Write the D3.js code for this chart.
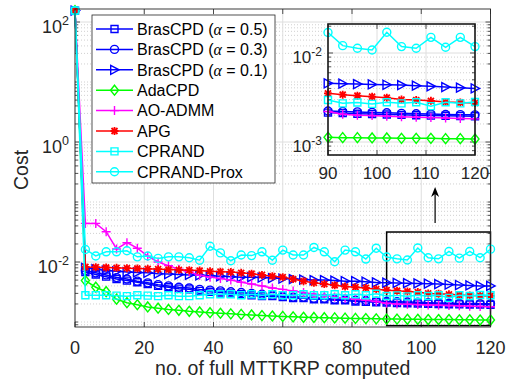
<!DOCTYPE html>
<html>
<head>
<meta charset="utf-8">
<script src="https://cdn.jsdelivr.net/npm/d3@7"></script>
<style>
  body { margin: 0; background: #fff; }
  text { font-family: "Liberation Sans", Arial, sans-serif; fill: #262626; }
</style>
</head>
<body>
<svg width="507" height="382"></svg>
<script>
// iterations (no. of full MTTKRP computed)
const iters = [0, 3, 6, 9, 12, 15, 18, 21, 24, 27, 30, 33, 36, 39, 42, 45, 48, 51, 54, 57, 60,
  63, 66, 69, 72, 75, 78, 81, 84, 87, 90, 93, 96, 99, 102, 105, 108, 111, 114, 117, 120];

const costBras05 = [155, 0.0068, 0.0062, 0.0057, 0.0052, 0.0049, 0.0046, 0.0043, 0.0040, 0.0038, 0.0036,
  0.0035, 0.0033, 0.0032, 0.0031, 0.0030, 0.0029, 0.0028, 0.0027, 0.0027, 0.0026,
  0.0025, 0.0025, 0.0024, 0.0024, 0.0023, 0.0023, 0.0022, 0.00218, 0.00214, 0.00211,
  0.00208, 0.00206, 0.00204, 0.00202, 0.0020, 0.00198, 0.00197, 0.00196, 0.00195, 0.00194];
const costBras03 = [155, 0.0072, 0.0066, 0.0061, 0.0055, 0.0052, 0.0048, 0.0045, 0.0042, 0.0040, 0.0038,
  0.0037, 0.0035, 0.0034, 0.0033, 0.0032, 0.0031, 0.0030, 0.0029, 0.0028, 0.0027,
  0.0026, 0.0026, 0.0025, 0.0025, 0.0024, 0.0024, 0.0023, 0.00228, 0.00223, 0.0022,
  0.00218, 0.00215, 0.00213, 0.0021, 0.00208, 0.00206, 0.00204, 0.00203, 0.00202, 0.00201];
const costBras01 = [155, 0.0080, 0.0076, 0.0072, 0.0070, 0.0068, 0.0067, 0.0066, 0.0064, 0.0063, 0.0062,
  0.0061, 0.0060, 0.0059, 0.0058, 0.0057, 0.0056, 0.0056, 0.0055, 0.0054, 0.0053,
  0.0052, 0.0051, 0.0050, 0.0050, 0.0049, 0.0048, 0.0048, 0.0047, 0.00456, 0.00452,
  0.00448, 0.00444, 0.0044, 0.00436, 0.0043, 0.00422, 0.00414, 0.00408, 0.0040, 0.0040];
const costAdaCPD = [155, 0.0049, 0.0038, 0.0032, 0.0024, 0.0021, 0.00194, 0.00178, 0.0017, 0.00162, 0.00157,
  0.00151, 0.00147, 0.00143, 0.0014, 0.00137, 0.00134, 0.00131, 0.00128, 0.00126, 0.00124,
  0.00122, 0.0012, 0.00119, 0.00118, 0.00117, 0.00116, 0.00115, 0.00114, 0.00113, 0.00112,
  0.00112, 0.00111, 0.00111, 0.0011, 0.0011, 0.0011, 0.00109, 0.00109, 0.00108, 0.00108];
const costAOADMM = [155, 0.044, 0.044, 0.032, 0.0165, 0.021, 0.017, 0.0125, 0.0100, 0.0087, 0.0076,
  0.0068, 0.0060, 0.0056, 0.0053, 0.0050, 0.0046, 0.0043, 0.0040, 0.0037, 0.0035,
  0.0033, 0.0031, 0.0029, 0.0028, 0.0026, 0.0025, 0.0024, 0.0023, 0.0022, 0.00205,
  0.0020, 0.00198, 0.00195, 0.00192, 0.0019, 0.00188, 0.00186, 0.00184, 0.00182, 0.0018];
const costAPG = [155, 0.0083, 0.0082, 0.0081, 0.0080, 0.0079, 0.0078, 0.0077, 0.0076, 0.0075, 0.0074,
  0.0073, 0.0072, 0.0070, 0.0069, 0.0068, 0.0066, 0.0064, 0.0061, 0.0058, 0.0056,
  0.0052, 0.0048, 0.0045, 0.0043, 0.0041, 0.0039, 0.0038, 0.0037, 0.00352, 0.0034,
  0.00332, 0.00323, 0.00315, 0.0030, 0.00296, 0.0029, 0.00282, 0.00278, 0.00275, 0.00272];
const costCPRAND = [155, 0.0028, 0.0028, 0.0028, 0.00275, 0.0027, 0.0028, 0.00275, 0.0027, 0.0028, 0.0027,
  0.0027, 0.0028, 0.0029, 0.0029, 0.0029, 0.0028, 0.0029, 0.0028, 0.0029, 0.0028,
  0.0028, 0.0029, 0.0028, 0.0028, 0.0029, 0.0028, 0.0029, 0.0028, 0.00296, 0.00272,
  0.00278, 0.00268, 0.0028, 0.00272, 0.0028, 0.00253, 0.0028, 0.00272, 0.00282, 0.0028];
const costCPRANDProx = [155, 0.0162, 0.0126, 0.0148, 0.0148, 0.0154, 0.0122, 0.0126, 0.0115, 0.0122, 0.0122,
  0.0118, 0.0107, 0.0183, 0.0142, 0.0105, 0.0131, 0.0128, 0.0148, 0.0107, 0.0158,
  0.0131, 0.0131, 0.0175, 0.0148, 0.0101, 0.0158, 0.0148, 0.0112, 0.0170, 0.0121,
  0.0113, 0.0108, 0.0171, 0.0118, 0.0113, 0.0150, 0.0116, 0.0150, 0.0118, 0.0164];

const seriesNames = ["BrasCPD (α = 0.5)", "BrasCPD (α = 0.3)", "BrasCPD (α = 0.1)", "AdaCPD",
  "AO-ADMM", "APG", "CPRAND", "CPRAND-Prox"];
const seriesValues = [costBras05, costBras03, costBras01, costAdaCPD, costAOADMM, costAPG, costCPRAND, costCPRANDProx];
const seriesColors = ["#0000ff", "#0000ff", "#0000ff", "#00ff00", "#ff00ff", "#ff0000", "#00ffff", "#00ffff"];
const seriesMarkers = ["square", "circle", "triangle", "diamond", "plus", "asterisk", "square", "circle"];

const xTicks = [0, 20, 40, 60, 80, 100, 120];
const yTickExps = [2, 0, -2];
const insetXTicks = [90, 100, 110, 120];
const insetYTickExps = [-2, -3];
// zoomed window shown in the inset (drawn as a box in the main axes)
const zoomX = [90, 120];
const zoomY = [10 ** -3.06, 10 ** -1.5];
const insetShift = 3;          // inset curve is offset by one sample
const arrowX = 104;
const arrowY = [10 ** -1.35, 10 ** -0.75];

const svg = d3.select("svg");
const ink = "#262626";

const x = d3.scaleLinear().domain([0, 120]).range([75, 490.5]);
const y = d3.scaleLog().domain([10 ** -3.083, 10 ** 2.217]).range([327, 9]);

const ix = d3.scaleLinear().domain([90, 120]).range([328, 475]);
const iy = d3.scaleLog().domain([10 ** -3.146, 10 ** -1.674]).range([155, 24]);

function minorVals(scale, majors) {
  const [lo, hi] = scale.domain();
  const out = [];
  for (let e = Math.floor(Math.log10(lo)); e <= Math.ceil(Math.log10(hi)); e++) {
    for (let k = 1; k < 10; k++) {
      const v = k * 10 ** e;
      if (v >= lo && v <= hi && !majors.some(m => Math.abs(Math.log10(m) - Math.log10(v)) < 1e-9)) out.push(v);
    }
  }
  return out;
}

function drawGrid(g, xs, ys, xTickVals, yMajor) {
  const [x0, x1] = xs.range();
  const [y0, y1] = ys.range();
  const yMinor = minorVals(ys, yMajor);
  g.selectAll("line.minor").data(yMinor).enter().append("line")
    .attr("x1", x0).attr("x2", x1)
    .attr("y1", d => ys(d)).attr("y2", d => ys(d))
    .style("stroke", "#c4c4c4").style("stroke-width", 0.8).style("stroke-dasharray", "1,2");
  g.selectAll("line.hmaj").data(yMajor).enter().append("line")
    .attr("x1", x0).attr("x2", x1)
    .attr("y1", d => ys(d)).attr("y2", d => ys(d))
    .style("stroke", "#dedede").style("stroke-width", 1);
  g.selectAll("line.vmaj").data(xTickVals).enter().append("line")
    .attr("y1", y0).attr("y2", y1)
    .attr("x1", d => xs(d)).attr("x2", d => xs(d))
    .style("stroke", "#dedede").style("stroke-width", 1);
  // tick marks inside the box
  const tk = g.append("g").style("stroke", ink).style("stroke-width", 0.8);
  xTickVals.forEach(v => {
    tk.append("line").attr("x1", xs(v)).attr("x2", xs(v)).attr("y1", y0).attr("y2", y0 - 5);
    tk.append("line").attr("x1", xs(v)).attr("x2", xs(v)).attr("y1", y1).attr("y2", y1 + 5);
  });
  yMajor.forEach(v => {
    tk.append("line").attr("x1", x0).attr("x2", x0 + 5).attr("y1", ys(v)).attr("y2", ys(v));
    tk.append("line").attr("x1", x1).attr("x2", x1 - 5).attr("y1", ys(v)).attr("y2", ys(v));
  });
  yMinor.forEach(v => {
    tk.append("line").attr("x1", x0).attr("x2", x0 + 3).attr("y1", ys(v)).attr("y2", ys(v));
    tk.append("line").attr("x1", x1).attr("x2", x1 - 3).attr("y1", ys(v)).attr("y2", ys(v));
  });
}

function marker(g, type, color) {
  const m = g.append("path").style("stroke", color).style("stroke-width", 1.4).style("fill", "none");
  if (type === "square") m.attr("d", "M-3.5,-3.5H3.5V3.5H-3.5Z");
  else if (type === "circle") m.attr("d", d3.arc()({innerRadius: 0, outerRadius: 4, startAngle: 0, endAngle: 2 * Math.PI}));
  else if (type === "triangle") m.attr("d", "M-3.8,-4.5L4.6,0L-3.8,4.5Z");
  else if (type === "diamond") m.attr("d", "M0,-5L4,0L0,5L-4,0Z");
  else if (type === "plus") m.attr("d", "M-4.5,0H4.5M0,-4.5V4.5");
  else if (type === "asterisk") m.attr("d", "M-4,0H4M0,-4V4M-3,-3L3,3M-3,3L3,-3").style("stroke-width", 1.8);
}

function drawSeries(g, xs, ys, shift, keep) {
  seriesValues.forEach((vals, i) => {
    const pts = iters.map((it, j) => [it + shift, vals[j]]).filter(keep);
    const sg = g.append("g");
    sg.append("path")
      .attr("d", d3.line().x(d => xs(d[0])).y(d => ys(d[1]))(pts))
      .style("fill", "none").style("stroke", seriesColors[i]).style("stroke-width", 1.5);
    pts.forEach(p => {
      marker(sg.append("g").attr("transform", `translate(${xs(p[0])},${ys(p[1])})`), seriesMarkers[i], seriesColors[i]);
    });
  });
}

function powLabel(g, px, py, exp, size, supSize) {
  const t = g.append("text").attr("x", px).attr("y", py)
    .style("text-anchor", "end").style("font-size", size + "px");
  t.append("tspan").text("10");
  t.append("tspan").attr("dy", -size * 0.42).style("font-size", supSize + "px").text(exp);
}

// ---- main axes ----
const main = svg.append("g");
drawGrid(main, x, y, xTicks, yTickExps.map(e => 10 ** e));

main.append("rect")
  .attr("x", x(zoomX[0])).attr("y", y(zoomY[1]))
  .attr("width", x(zoomX[1]) - x(zoomX[0])).attr("height", y(zoomY[0]) - y(zoomY[1]))
  .style("fill", "none").style("stroke", "#000").style("stroke-width", 1.5);

drawSeries(main, x, y, 0, () => true);

main.append("rect").attr("x", 75).attr("y", 9).attr("width", 490.5 - 75).attr("height", 327 - 9)
  .style("fill", "none").style("stroke", ink).style("stroke-width", 0.9);

main.selectAll("text.xt").data(xTicks).enter().append("text")
  .attr("x", d => x(d)).attr("y", 354)
  .style("text-anchor", "middle").style("font-size", "18px").text(d => d);
yTickExps.forEach(e => powLabel(main, 69, y(10 ** e) + 10.5, e, 18, 12.5));

main.append("text").attr("x", x(60)).attr("y", 375)
  .style("text-anchor", "middle").style("font-size", "19.5px").text("no. of full MTTKRP computed");
main.append("text").attr("transform", "translate(28,170) rotate(-90)")
  .style("text-anchor", "middle").style("font-size", "19.5px").text("Cost");

// arrow pointing from the zoom box to the inset
const ax = x(arrowX);
main.append("line").attr("x1", ax).attr("x2", ax).attr("y1", y(arrowY[0])).attr("y2", y(arrowY[1]) + 4)
  .style("stroke", "#000").style("stroke-width", 1.2);
main.append("path")
  .attr("d", `M${ax},${y(arrowY[1])}L${ax - 4},${y(arrowY[1]) + 10}L${ax},${y(arrowY[1]) + 7}L${ax + 4},${y(arrowY[1]) + 10}Z`)
  .style("fill", "#000");

// ---- legend ----
const leg = svg.append("g");
leg.append("rect").attr("x", 92).attr("y", 15).attr("width", 183).attr("height", 168)
  .style("fill", "#fff").style("stroke", ink).style("stroke-width", 0.8);
seriesNames.forEach((name, i) => {
  const cy = 29 + i * 20.4;
  leg.append("line").attr("x1", 96).attr("x2", 133).attr("y1", cy).attr("y2", cy)
    .style("stroke", seriesColors[i]).style("stroke-width", 1.5);
  marker(leg.append("g").attr("transform", `translate(114.5,${cy})`), seriesMarkers[i], seriesColors[i]);
  const t = leg.append("text").attr("x", 137).attr("y", cy + 5.8).style("font-size", "16px").style("fill", "#000");
  const parts = name.split("α");
  t.append("tspan").text(parts[0]);
  if (parts.length > 1) {
    t.append("tspan").text("α").style("font-family", "'Liberation Serif', serif").style("font-style", "italic");
    t.append("tspan").text(parts[1]);
  }
});

// ---- inset ----
const inset = svg.append("g");
inset.append("clipPath").attr("id", "insetClip").append("rect")
  .attr("x", 328).attr("y", 24).attr("width", 475 - 328).attr("height", 155 - 24);
inset.append("rect").attr("x", 328).attr("y", 24).attr("width", 475 - 328).attr("height", 155 - 24)
  .style("fill", "#fff");
drawGrid(inset, ix, iy, insetXTicks, insetYTickExps.map(e => 10 ** e));
const insetPlot = inset.append("g");
drawSeries(insetPlot, ix, iy, insetShift, p => p[0] >= 90 && p[0] <= 120);
inset.append("rect").attr("x", 328).attr("y", 24).attr("width", 475 - 328).attr("height", 155 - 24)
  .style("fill", "none").style("stroke", "#1a1a1a").style("stroke-width", 1.6);
inset.selectAll("text.ixt").data(insetXTicks).enter().append("text")
  .attr("x", d => ix(d)).attr("y", 179)
  .style("text-anchor", "middle").style("font-size", "17px").text(d => d);
insetYTickExps.forEach(e => powLabel(inset, 322, iy(10 ** e) + 10, e, 17, 12));
</script>
</body>
</html>
